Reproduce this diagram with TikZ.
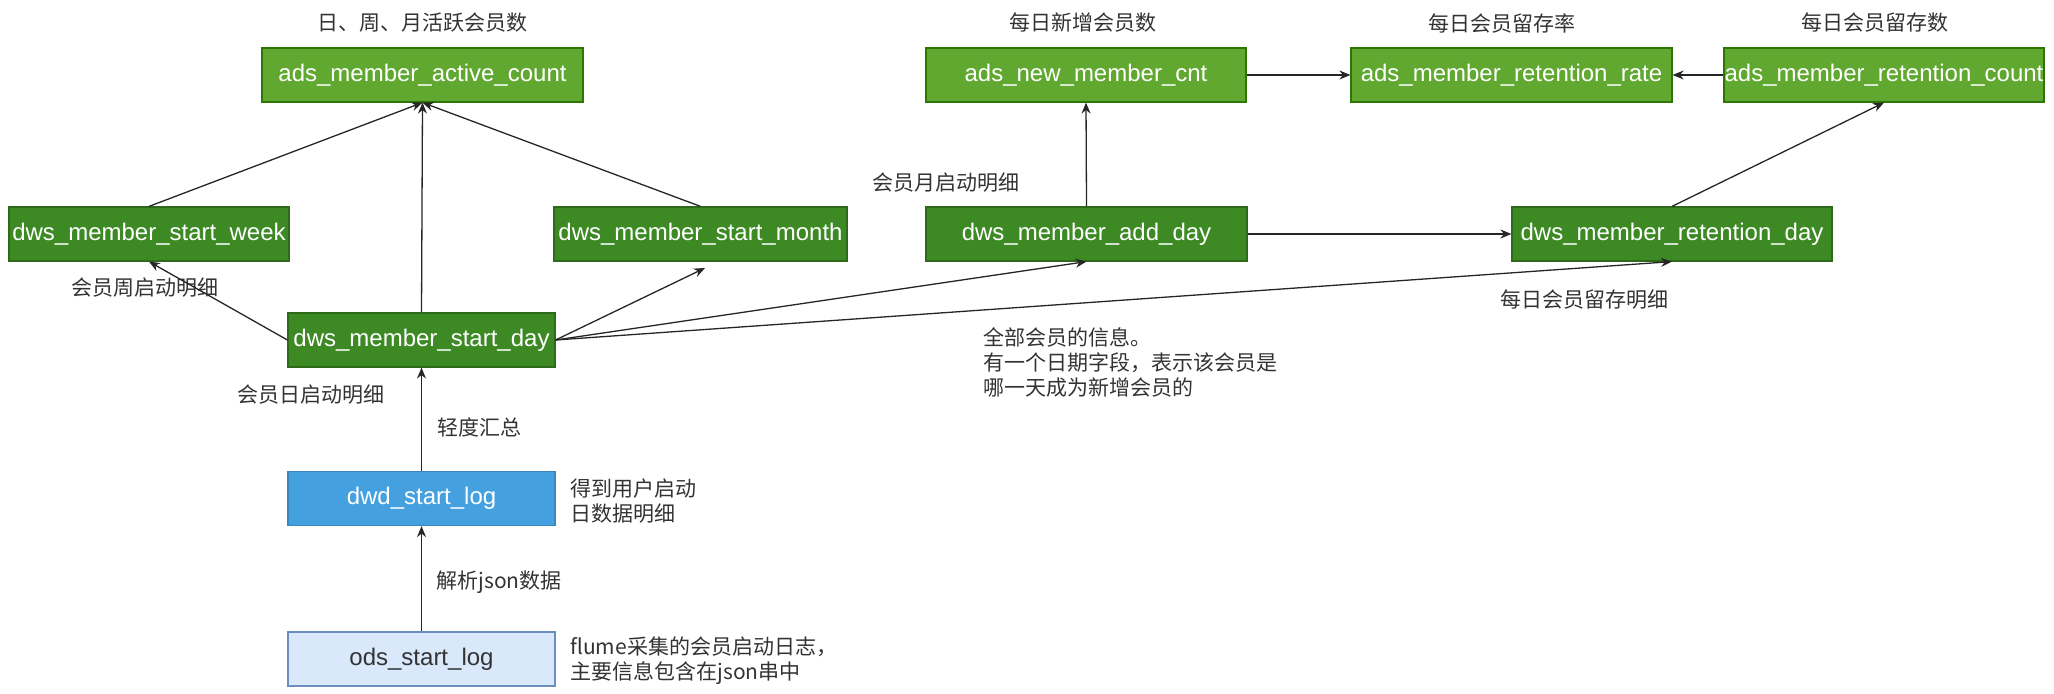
\documentclass[tikz,border=0pt]{standalone}
\usepackage{fontspec}
\setmainfont{Liberation Sans}
\newfontfamily\cjk{Noto Sans CJK SC}
\usetikzlibrary{arrows.meta}
\definecolor{adsfill}{HTML}{60A830}
\definecolor{adsline}{HTML}{2D7600}
\definecolor{dwsfill}{HTML}{3D8A25}
\definecolor{dwsline}{HTML}{2D6B1B}
\definecolor{dwdfill}{HTML}{45A0E0}
\definecolor{dwdline}{HTML}{3A87C0}
\definecolor{odsfill}{HTML}{DAE8FC}
\definecolor{odsline}{HTML}{6C8EBF}
\definecolor{labtext}{HTML}{333333}
\begin{document}
\begin{tikzpicture}[x=0.5pt,y=-0.5pt,
  tbl/.style={draw, line width=0.6pt, minimum height=27pt, inner sep=0pt,
    font=\fontsize{12}{14}\selectfont, text=white},
  adsbox/.style={tbl, fill=adsfill, draw=adsline},
  dwsbox/.style={tbl, fill=dwsfill, draw=dwsline},
  dwdbox/.style={tbl, fill=dwdfill, draw=dwdline},
  odsbox/.style={tbl, fill=odsfill, draw=odsline, text=labtext},
  lab/.style={inner sep=0pt, font=\cjk\fontsize{10.5}{12.5}\selectfont, text=labtext, align=left},
  arr/.style={-{Stealth[length=5.5pt,width=4.5pt]}, line width=0.65pt, draw=black!85}]
\useasboundingbox (0,0) rectangle (2054,694);
% ads
\node[adsbox, minimum width=160.5pt] (act) at (422.5,75) {ads\_member\_active\_count};
\node[adsbox, minimum width=160pt] (new) at (1086,75) {ads\_new\_member\_cnt};
\node[adsbox, minimum width=160.5pt] (rate) at (1511.5,75) {ads\_member\_retention\_rate};
\node[adsbox, minimum width=160pt] (cnt) at (1884,75) {ads\_member\_retention\_count};
% dws
\node[dwsbox, minimum width=140pt] (week) at (149,234) {dws\_member\_start\_week};
\node[dwsbox, minimum width=146.5pt] (month) at (700.5,234) {dws\_member\_start\_month};
\node[dwsbox, minimum width=160.5pt] (add) at (1086.5,234) {dws\_member\_add\_day};
\node[dwsbox, minimum width=160pt] (ret) at (1672,234) {dws\_member\_retention\_day};
\node[dwsbox, minimum width=133.5pt] (day) at (421.5,340) {dws\_member\_start\_day};
% dwd / ods
\node[dwdbox, minimum width=133.5pt] (dwd) at (421.5,498.5) {dwd\_start\_log};
\node[odsbox, minimum width=133.5pt] (ods) at (421.5,659) {ods\_start\_log};
% labels
\node[lab] (l1) at (422,23) {日、周、月活跃会员数};
\node[lab] (l2) at (1083,23) {每日新增会员数};
\node[lab] (l3) at (1502,23) {每日会员留存率};
\node[lab] (l4) at (1875,23) {每日会员留存数};
\node[lab] (l5) at (946,183) {会员月启动明细};
\node[lab] (l6) at (145,288) {会员周启动明细};
\node[lab] (l7) at (311,395) {会员日启动明细};
\node[lab, anchor=west] (l8) at (437,427) {轻度汇总};
\node[lab, anchor=west] (l9) at (570,501.5) {得到用户启动\\日数据明细};
\node[lab, anchor=west] (l10) at (436,582) {解析json数据};
\node[lab, anchor=west] (l11) at (570,661) {flume采集的会员启动日志，\\主要信息包含在json串中};
\node[lab, anchor=west] (l12) at (983,362) {全部会员的信息。\\有一个日期字段，表示该会员是\\哪一天成为新增会员的};
\node[lab] (l13) at (1584,300) {每日会员留存明细};
% connectors
\coordinate (mtip) at (705,268);
\draw[arr] (week.north) -- (act.south);
\draw[arr] (day.north) -- (act.south);
\draw[arr] (month.north) -- (act.south);
\draw[arr] (day.west) -- (week.south);
\draw[arr] (day.east) -- (mtip);
\draw[arr] (day.east) -- (add.south);
\draw[arr] (day.east) -- (ret.south);
\draw[arr] (dwd.north) -- (day.south);
\draw[arr] (ods.north) -- (dwd.south);
\draw[arr] (add.north) -- (new.south);
\draw[arr] (add.east) -- (ret.west);
\draw[arr] (new.east) -- (rate.west);
\draw[arr] (cnt.west) -- (rate.east);
\draw[arr] (ret.north) -- (cnt.south);
\end{tikzpicture}
\end{document}
